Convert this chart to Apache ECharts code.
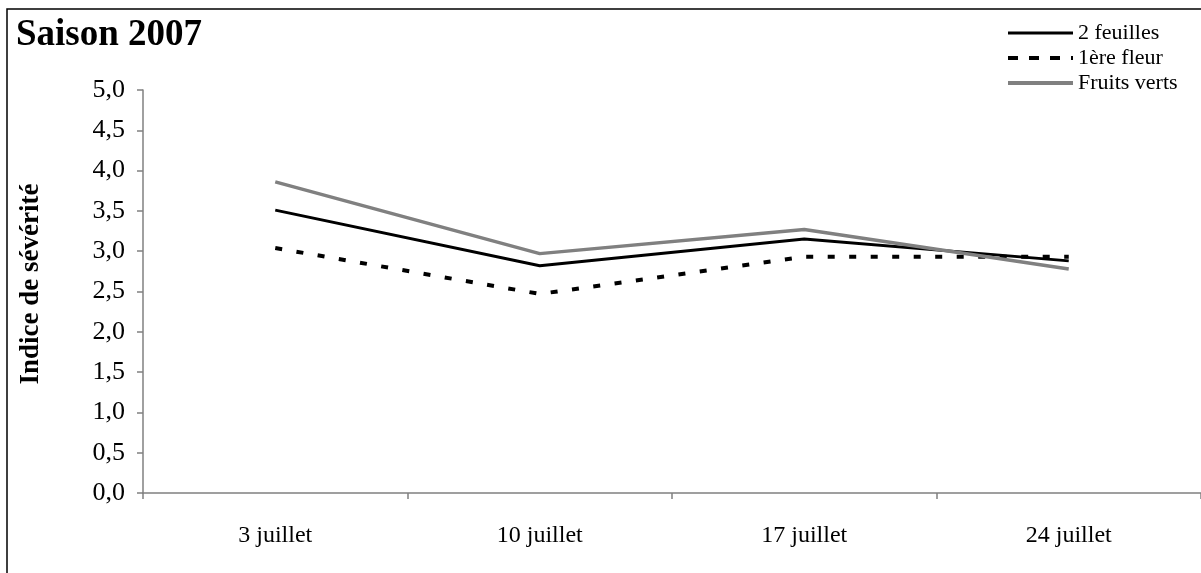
<!DOCTYPE html>
<html>
<head>
<meta charset="utf-8">
<script src="https://cdn.jsdelivr.net/npm/echarts@6/dist/echarts.min.js"></script>
<style>
html,body{margin:0;padding:0;background:#fff;}
#chart{width:1201px;height:573px;}
</style>
</head>
<body>
<div id="chart"></div>
<script>
const categories = ['3 juillet', '10 juillet', '17 juillet', '24 juillet'];
const deuxFeuilles = [3.51, 2.82, 3.15, 2.88];
const premiereFleur = [3.04, 2.47, 2.93, 2.93];
const fruitsVerts = [3.86, 2.97, 3.27, 2.78];
const seriesNames = ['2 feuilles', '1ère fleur', 'Fruits verts'];

const FONT = '"Liberation Serif", "Times New Roman", serif';
const chart = echarts.init(document.getElementById('chart'));
chart.setOption({
  animation: false,
  backgroundColor: '#fff',
  title: {
    text: 'Saison 2007',
    left: 11, top: 12,
    textStyle: { fontFamily: FONT, fontWeight: 'bold', fontSize: 37, color: '#000' }
  },
  legend: {
    orient: 'vertical',
    left: 1006, top: 22, padding: 0,
    itemWidth: 65, itemHeight: 14, itemGap: 3,
    itemStyle: { opacity: 0 },
    textStyle: { fontFamily: FONT, fontSize: 22, color: '#000' },
    data: [
      { name: seriesNames[0], lineStyle: { width: 3 } },
      { name: seriesNames[1], lineStyle: { width: 4, type: [10, 11] } },
      { name: seriesNames[2], lineStyle: { width: 4 } }
    ]
  },
  graphic: [
    { type: 'rect', silent: true, shape: { x: 7, y: 9, width: 1215, height: 590 },
      style: { fill: 'none', stroke: '#000', lineWidth: 1.5 } },
    { type: 'text', x: 31, y: 284, rotation: Math.PI / 2,
      style: { text: 'Indice de sévérité', fontFamily: FONT, fontWeight: 'bold', fontSize: 27,
        fill: '#000', textAlign: 'center', textVerticalAlign: 'middle' } }
  ],
  grid: { left: 143, top: 90, width: 1068, height: 403, containLabel: false },
  xAxis: {
    type: 'category',
    data: categories,
    boundaryGap: true,
    axisLine: { lineStyle: { color: '#808080', width: 1.5 } },
    axisTick: { show: true, length: 6, lineStyle: { color: '#808080', width: 1.5 } },
    axisLabel: { fontFamily: FONT, fontSize: 24, color: '#000', margin: 31 },
    splitLine: { show: false }
  },
  yAxis: {
    type: 'value',
    min: 0, max: 5, interval: 0.5,
    axisLine: { show: true, lineStyle: { color: '#808080', width: 1.5 } },
    axisTick: { show: true, length: 6, lineStyle: { color: '#808080', width: 1.5 } },
    axisLabel: { fontFamily: FONT, fontSize: 26, color: '#000', margin: 18,
      formatter: v => v.toFixed(1).replace('.', ',') },
    splitLine: { show: false }
  },
  series: [
    { name: seriesNames[0], type: 'line', data: deuxFeuilles, symbol: 'none',
      lineStyle: { color: '#000', width: 3 }, itemStyle: { color: '#000' } },
    { name: seriesNames[1], type: 'line', data: premiereFleur, symbol: 'none',
      lineStyle: { color: '#000', width: 4, type: [7, 14.5] }, itemStyle: { color: '#000' } },
    { name: seriesNames[2], type: 'line', data: fruitsVerts, symbol: 'none',
      lineStyle: { color: '#808080', width: 3.5 }, itemStyle: { color: '#808080' } }
  ]
});
</script>
</body>
</html>
